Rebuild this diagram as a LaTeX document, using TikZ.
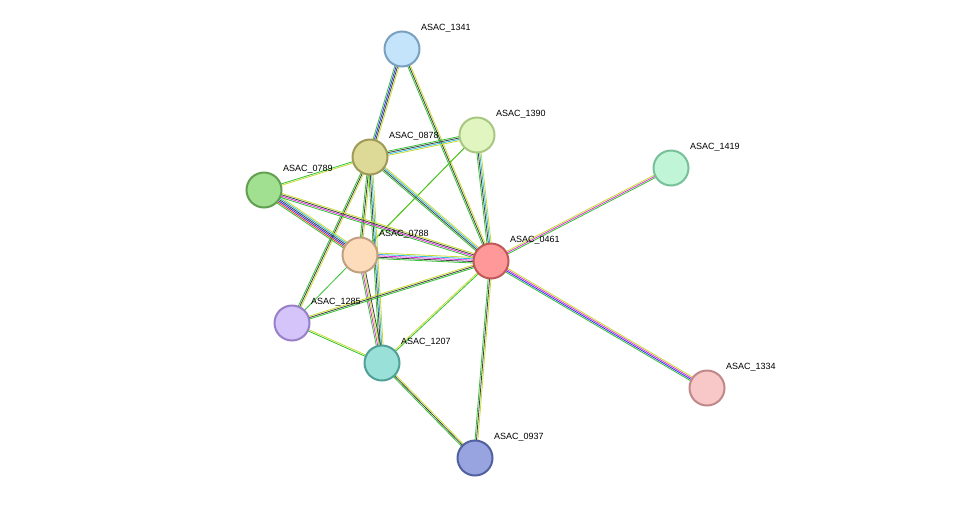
\documentclass[tikz,border=0pt]{standalone}
\usepackage{fontspec}
\setmainfont{Liberation Sans}
\usetikzlibrary{calc}
\definecolor{eg}{HTML}{33C233}\definecolor{ey}{HTML}{C8DC30}\definecolor{ek}{HTML}{404040}
\definecolor{ec}{HTML}{30B8E0}\definecolor{eb}{HTML}{3030F0}\definecolor{em}{HTML}{E030E0}\definecolor{er}{HTML}{F03030}
\newcommand\sedge[4]{\foreach \c [count=\i] in {#4}{\pgfmathsetmacro\o{(\i-(#3+1)/2)*1.4}
 \draw[\c, line width=0.8pt] ($(#1)!\o pt!90:(#2)$) -- ($(#2)!\o pt!-90:(#1)$);}}
\tikzset{prot/.style={circle,minimum size=35pt,inner sep=0pt,line width=2pt},
 lab/.style={anchor=west,font=\fontsize{9}{10}\selectfont,inner sep=1pt}}
\begin{document}
\begin{tikzpicture}[x=1pt,y=-1pt]
\useasboundingbox (0,0) rectangle (976,504);
\fill[white] (0,0) rectangle (976,504);
\coordinate (c1341) at (402,49);\coordinate (c1390) at (477,135);\coordinate (c0878) at (370,157);
\coordinate (c1419) at (671,168);\coordinate (c0789) at (264,190);\coordinate (c0788) at (360,255);
\coordinate (c0461) at (491,261);\coordinate (c1285) at (292,323);\coordinate (c1207) at (382,363);
\coordinate (c1334) at (707,388);\coordinate (c0937) at (475,458);
\sedge{c1341}{c0878}{4}{eg,eb,ek,ey}
\sedge{c1341}{c0461}{3}{eg,ek,ey}
\sedge{c1390}{c0878}{4}{eg,ek,ec,ey}
\sedge{c1390}{c0461}{4}{eg,ek,ec,ey}
\sedge{c1390}{c0788}{1}{ey}
\sedge{c1390}{c1285}{1}{eg}
\sedge{c0878}{c0789}{2}{eg,ey}
\sedge{c0878}{c0461}{4}{eg,ek,ec,ey}
\sedge{c0878}{c0788}{3}{eg,ek,ey}
\sedge{c0878}{c1285}{3}{eg,ek,ey}
\sedge{c0878}{c1207}{4}{eg,ek,ec,ey}
\sedge{c0789}{c0788}{6}{eg,er,eb,ek,ec,ey}
\sedge{c0789}{c0461}{4}{eg,em,ek,ey}
\sedge{c0788}{c0461}{5}{eg,ek,em,ec,ey}
\sedge{c0788}{c1207}{4}{eg,em,ey,ek}
\sedge{c1285}{c0461}{3}{eg,ek,ey}
\sedge{c1285}{c1207}{2}{eg,ey}
\sedge{c1207}{c0461}{2}{eg,ey}
\sedge{c1207}{c0937}{3}{eg,ek,ey}
\sedge{c0461}{c0937}{3}{eg,ek,ey}
\sedge{c0461}{c1419}{3}{eg,em,ey}
\sedge{c0461}{c1334}{4}{eg,eb,em,ey}
\node[prot,fill={rgb,255:red,196;green,228;blue,251},draw={rgb,255:red,122;green,160;blue,192}] (n1341) at (c1341) {};
\node[prot,fill={rgb,255:red,224;green,245;blue,192},draw={rgb,255:red,168;green,200;blue,128}] (n1390) at (c1390) {};
\node[prot,fill={rgb,255:red,221;green,218;blue,152},draw={rgb,255:red,160;green,154;blue,88}] (n0878) at (c0878) {};
\node[prot,fill={rgb,255:red,192;green,245;blue,216},draw={rgb,255:red,120;green,192;blue,152}] (n1419) at (c1419) {};
\node[prot,fill={rgb,255:red,160;green,224;blue,144},draw={rgb,255:red,96;green,160;blue,80}] (n0789) at (c0789) {};
\node[prot,fill={rgb,255:red,253;green,220;blue,188},draw={rgb,255:red,192;green,160;blue,128}] (n0788) at (c0788) {};
\node[prot,fill={rgb,255:red,255;green,152;blue,152},draw={rgb,255:red,192;green,88;blue,88}] (n0461) at (c0461) {};
\node[prot,fill={rgb,255:red,212;green,196;blue,250},draw={rgb,255:red,152;green,128;blue,200}] (n1285) at (c1285) {};
\node[prot,fill={rgb,255:red,152;green,224;blue,216},draw={rgb,255:red,80;green,160;blue,152}] (n1207) at (c1207) {};
\node[prot,fill={rgb,255:red,248;green,200;blue,200},draw={rgb,255:red,192;green,136;blue,136}] (n1334) at (c1334) {};
\node[prot,fill={rgb,255:red,152;green,164;blue,224},draw={rgb,255:red,80;green,96;blue,160}] (n0937) at (c0937) {};
\foreach \n in {1341,1390,0878,1419,0789,0788,0461,1285,1207,1334,0937}
  \node[lab] (l\n) at ($(c\n)+(18,-21)$) {ASAC\_\n};
\end{tikzpicture}
\end{document}
